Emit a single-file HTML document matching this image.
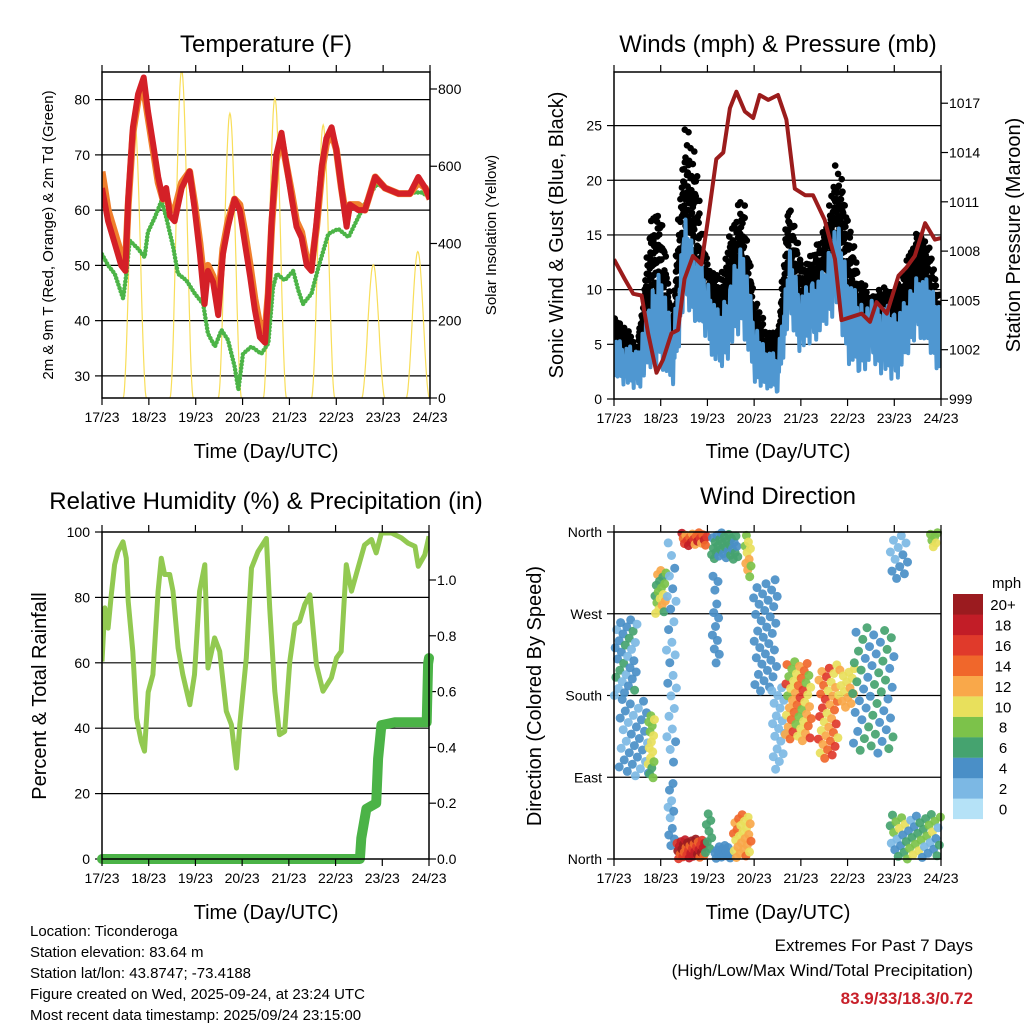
<!DOCTYPE html>
<html><head><meta charset="utf-8"><style>
html,body{margin:0;padding:0;background:#fff;}
svg{display:block;font-family:"Liberation Sans",Arial,sans-serif;}
</style></head><body>
<svg id="c" width="1024" height="1024" viewBox="0 0 1024 1024" xmlns="http://www.w3.org/2000/svg">
<rect width="1024" height="1024" fill="#fff"/>
<text x="266" y="52" font-size="24" text-anchor="middle">Temperature (F)</text>
<text x="778" y="52" font-size="24" text-anchor="middle">Winds (mph) &amp; Pressure (mb)</text>
<text x="266" y="509" font-size="24" text-anchor="middle">Relative Humidity (%) &amp; Precipitation (in)</text>
<text x="778" y="504" font-size="24" text-anchor="middle">Wind Direction</text>
<text transform="translate(53,235) rotate(-90)" font-size="15" text-anchor="middle">2m &amp; 9m T (Red, Orange) &amp; 2m Td (Green)</text>
<text transform="translate(496,235) rotate(-90)" font-size="15" text-anchor="middle">Solar Insolation (Yellow)</text>
<text transform="translate(563,235) rotate(-90)" font-size="20" text-anchor="middle">Sonic Wind &amp; Gust (Blue, Black)</text>
<text transform="translate(1020,235) rotate(-90)" font-size="20" text-anchor="middle">Station Pressure (Maroon)</text>
<text transform="translate(46,696) rotate(-90)" font-size="20" text-anchor="middle">Percent &amp; Total Rainfall</text>
<text transform="translate(541,696) rotate(-90)" font-size="20" text-anchor="middle">Direction (Colored By Speed)</text>
<text x="266" y="458" font-size="20" text-anchor="middle">Time (Day/UTC)</text>
<text x="778" y="458" font-size="20" text-anchor="middle">Time (Day/UTC)</text>
<text x="266" y="919" font-size="20" text-anchor="middle">Time (Day/UTC)</text>
<text x="778" y="919" font-size="20" text-anchor="middle">Time (Day/UTC)</text>
<g font-size="15">
<text x="30" y="936">Location: Ticonderoga</text>
<text x="30" y="957">Station elevation: 83.64 m</text>
<text x="30" y="978">Station lat/lon: 43.8747; -73.4188</text>
<text x="30" y="999">Figure created on Wed, 2025-09-24, at 23:24 UTC</text>
<text x="30" y="1020">Most recent data timestamp: 2025/09/24 23:15:00</text>
</g>
<text x="973" y="951" font-size="17" text-anchor="end">Extremes For Past 7 Days</text>
<text x="973" y="976" font-size="17" text-anchor="end">(High/Low/Max Wind/Total Precipitation)</text>
<text x="973" y="1004" font-size="17" font-weight="bold" fill="#c8202a" text-anchor="end">83.9/33/18.3/0.72</text>
</svg>
<script>
// ---- data ----
const dayLabels = ["17/23","18/23","19/23","20/23","21/23","22/23","23/23","24/23"];
const tempTicks = [30,40,50,60,70,80];
const solarTicks = [0,200,400,600,800];
const windTicks = [0,5,10,15,20,25];
const presTicks = [999,1002,1005,1008,1011,1014,1017];
const rhTicks = [0,20,40,60,80,100];
const rainTicks = [0.0,0.2,0.4,0.6,0.8,1.0];
const dirTicks = [0,90,180,270,360];
const dirTickLabels = ["North","East","South","West","North"];

const redT = [0,.13,.27,.41,.5,.56,.66,.77,.89,.98,1.09,1.2,1.3,1.37,1.45,1.55,1.7,1.87,1.98,2.09,2.19,2.26,2.37,2.48,2.58,2.69,2.83,2.94,3.05,3.16,3.26,3.37,3.48,3.55,3.62,3.72,3.83,3.94,4.05,4.15,4.26,4.37,4.47,4.58,4.69,4.79,4.9,5.0,5.11,5.22,5.29,5.47,5.61,5.72,5.83,6.04,6.33,6.57,6.75,6.9,7.0];
const redV = [64,58,54,50,49,62,75,81,84,78,72,66,62,64,59,58,64,67,60,52,43,49,47,41,52,57,62,60,54,48,42,37,36,45,58,70,74,68,62,57,55,50,49,58,68,73,75,71,64,57,61,60,60,63,66,64,63,63,66,64,62];
const orangeV = [67,60,56,52,50,61,74,80,82,77,71,65,62,63,60,60,65,67,61,54,46,50,48,43,53,58,62,61,56,50,44,39,38,45,57,69,73,68,63,58,56,51,50,57,67,72,74,71,64,58,61,61,60,63,66,64,63,63,65,64,62];
const greenT = [0,.13,.27,.45,.52,.59,.77,.91,.98,1.13,1.27,1.37,1.52,1.62,1.8,1.98,2.16,2.26,2.41,2.55,2.69,2.83,2.91,3.01,3.19,3.4,3.55,3.65,3.73,3.9,4.08,4.19,4.29,4.47,4.62,4.83,5.04,5.26,5.47,5.68,5.86,6.11,6.4,6.61,6.82,7.0];
const greenV = [52,50,48.5,44,48.5,54.5,53,51.5,56,58.7,61.7,58.7,53.3,48.5,47.3,44.9,43,37.7,35.3,38.3,36.5,31.7,27.5,34,35.3,34,35.9,46,48.5,47.3,49,45.5,43,44.9,49.7,55.7,56.6,55.1,58.7,62.3,64.7,63.8,62.9,63.2,63.2,62.3];
const solarPeakT = [0.7,1.7,2.73,3.69,4.72,5.79,6.74];
const solarPeakV = [711,850,737,776,707,345,379];

const windT = [0,.25,.5,.75,1,1.25,1.5,1.75,2,2.25,2.5,2.75,3,3.25,3.5,3.75,4,4.25,4.5,4.75,5,5.25,5.5,5.75,6,6.25,6.5,6.75,7];
const windLo = [2,1,0.5,2,3,0.5,8,7,5,2,4,6,1,1,0.5,7,4,5,6,8,3,2,3,2,1,3,6,4,2];
const windHi = [6,5,4.5,9,13,6,17,14,11,8,11,15,7,5,4,14,10,11,12,17,12,9,9,9,8,9,12,11,9];
const gustLo = [5,4,3,8,9,4,14,11,8,6,9,11,5,3,3,12,8,9,9,14,10,7,6,6,5,7,10,9,6];
const gustHi = [8,7,5,16,20,7,27.5,23,13,11,16,20,10,7,6,20,13,14,16,23,19,12,10,11,11,13,17,14,10];
const presT = [0,.23,.41,.59,.73,.91,1.05,1.23,1.37,1.51,1.69,1.87,2.01,2.19,2.34,2.48,2.62,2.8,2.98,3.12,3.3,3.51,3.69,3.87,4.09,4.26,4.51,4.73,4.87,5.09,5.3,5.48,5.62,5.84,6.09,6.26,6.44,6.66,6.87,7.0];
const presV = [1007.5,1006.3,1005.4,1005.3,1003.0,1000.6,1001.4,1003.0,1003.2,1006.3,1007.7,1007.2,1009.9,1013.6,1014.0,1016.7,1017.7,1016.5,1016.1,1017.5,1017.2,1017.5,1016.0,1011.8,1011.4,1011.4,1009.9,1007.5,1003.8,1004.0,1004.2,1003.7,1004.9,1004.2,1006.5,1007.0,1007.7,1009.7,1008.7,1008.8];

const rhT = [0,.06,.13,.2,.27,.34,.45,.52,.56,.66,.74,.84,.91,.99,1.09,1.2,1.27,1.34,1.45,1.52,1.63,1.73,1.88,1.98,2.09,2.2,2.27,2.41,2.52,2.66,2.77,2.88,2.95,3.09,3.2,3.34,3.52,3.59,3.7,3.8,3.91,4.02,4.13,4.23,4.34,4.45,4.59,4.73,4.91,5.02,5.12,5.23,5.34,5.48,5.62,5.77,5.87,5.98,6.2,6.41,6.55,6.7,6.77,6.91,7.0];
const rhV = [60.4,76.8,70.6,80.8,90,94,97,92,78.8,63.5,43,36,33,51,56.4,81.9,92,87,87,81.9,64.5,56.4,47.2,56.4,81.9,90,58.4,67.6,63.5,45.2,41.1,27.8,41.1,61.5,89,94,98,76.8,51.3,38,39,60.4,71.7,72.7,77.8,80.8,59.4,51.3,55.4,61.5,63.5,90,81.9,89,96,97.7,93.6,99.7,99.7,98.2,96.6,95.6,89.5,93,98.7];
const rainT = [0,5.52,5.55,5.66,5.87,5.91,5.98,6.27,6.95,6.98,7.0];
const rainV = [0,0,0.075,0.18,0.2,0.36,0.48,0.49,0.49,0.70,0.72];

const dirT0 = [0.0,0.1,0.73,0.87,1.12,1.15,1.34,1.44,1.95,2.08,2.1,2.15,2.55,2.8,2.98,3.37,3.66,4.37,4.8,5.1,5.9,5.9,6.76];
const dirT1 = [0.5,0.75,0.87,1.12,1.34,1.3,1.95,2.0,2.1,2.66,2.26,2.5,2.94,2.94,3.5,3.66,4.23,4.8,5.16,6.0,6.3,7.0,6.94];
const dirD0 = [180,90,85,270,100,5,0,345,5,330,215,0,0,310,185,95,130,110,165,115,305,0,342];
const dirD1 = [265,177,160,320,350,85,22,360,55,360,320,15,50,360,310,190,220,215,210,258,360,50,360];
const dirS0 = [2,2,6,5,1,2,13,11,5,4,3,3,9,7,3,1,7,9,9,3,2,2,7];
const dirS1 = [6,5,11,13,4,5,21,19,7,7,5,5,14,13,5,3,16,17,13,7,4,10,10];
const dirN = [30,30,15,18,25,10,35,20,8,30,12,15,25,10,35,18,45,35,15,50,12,45,6];
const speedColors = ["#b5e2f7","#7cb8e4","#4a8fc7","#45a36f","#7cc24a","#e8e05c","#f9a84a","#f0672b","#e03a2b","#c21d27","#9b1b1f"];
const speedLabels = ["0","2","4","6","8","10","12","14","16","18","20+"];

// ---- helpers ----
const svg = document.getElementById('c');
const NS = 'http://www.w3.org/2000/svg';
function mk(tag, attrs, parent){
  const e = document.createElementNS(NS, tag);
  for (const k in attrs) e.setAttribute(k, attrs[k]);
  (parent||svg).appendChild(e);
  return e;
}
function frac(v){ return v - Math.floor(v); }
function axis(lo, hi, p0, p1){ return v => p0 + (v-lo)/(hi-lo)*(p1-p0); }
function panel(x0,x1,y0,y1){ return {x0,x1,y0,y1,x:axis(0,7,x0,x1)}; }
function pathFrom(ts, vs, xf, yf){
  return ts.map((t,i)=>(i?'L':'M')+xf(t).toFixed(1)+','+yf(vs[i]).toFixed(1)).join(' ');
}
function frame(P, name){
  const g = mk('g', {});
  
  
  mk('rect',{x:P.x0,y:P.y0,width:P.x1-P.x0,height:P.y1-P.y0,fill:'none',stroke:'#000','stroke-width':1.5}, g);
  dayLabels.forEach((lab,i)=>{
    const x = P.x(i);
    mk('line',{x1:x,x2:x,y1:P.y1,y2:P.y1+7,stroke:'#000','stroke-width':1.2}, g);
    mk('line',{x1:x,x2:x,y1:P.y0,y2:P.y0-7,stroke:'#000','stroke-width':1.2}, g);
    const t = mk('text',{x:x,y:P.y1+24,'font-size':14,'text-anchor':'middle'}, g);
    
    
    t.textContent = lab;
  });
  return g;
}
function leftTicks(P, ticks, yf, labels, grid, name){
  ticks.forEach((v,i)=>{
    const y = yf(v);
    if (grid && y>P.y0+1 && y<P.y1-1) mk('line',{x1:P.x0,x2:P.x1,y1:y,y2:y,stroke:'#000','stroke-width':1.2});
    mk('line',{x1:P.x0-7,x2:P.x0,y1:y,y2:y,stroke:'#000','stroke-width':1.2});
    const t = mk('text',{x:P.x0-12,y:y+5,'font-size':14,'text-anchor':'end'});
    
    
    t.textContent = labels ? labels[i] : v;
  });
}
function rightTicks(P, ticks, yf, fmt, name){
  ticks.forEach(v=>{
    const y = yf(v);
    mk('line',{x1:P.x1,x2:P.x1+7,y1:y,y2:y,stroke:'#000','stroke-width':1.2});
    const t = mk('text',{x:P.x1+8,y:y+5,'font-size':14,'text-anchor':'start'});
    
    
    t.textContent = fmt ? fmt(v) : v;
  });
}
function clip(P, id){
  const d = mk('defs',{});
  const c = mk('clipPath',{id:id}, d);
  mk('rect',{x:P.x0,y:P.y0,width:P.x1-P.x0,height:P.y1-P.y0}, c);
}

// ---- Panel 1: Temperature ----
const P1 = panel(102,430,72,398);
const yT = axis(26,85,398,72);
const yS = axis(0,844,398,72);
clip(P1,'c1');
leftTicks(P1, tempTicks, yT, null, true, 'temperature');
rightTicks(P1, solarTicks, yS, null, 'solar');
const g1 = mk('g',{'clip-path':'url(#c1)'});
solarPeakT.forEach((pt,i)=>{
  let d='';
  for (let k=0;k<=40;k++){
    const t = pt-0.25+k*0.5/40;
    const s = Math.sin(Math.PI*k/40);
    const v = solarPeakV[i]*Math.pow(s,2);
    d += (k?'L':'M')+P1.x(t).toFixed(1)+','+yS(v).toFixed(1);
  }
  const p = mk('path',{d:d,fill:'none',stroke:'#f8de5a','stroke-width':1.2}, g1);
  
  
});
const pg = mk('path',{d:pathFrom(greenT,greenV,P1.x,yT),fill:'none',stroke:'#4cb447','stroke-width':4.5,'stroke-linecap':'round','stroke-dasharray':'0 3.5'}, g1);


const po = mk('path',{d:pathFrom(redT,orangeV,P1.x,yT),fill:'none',stroke:'#f07f2c','stroke-width':7,'stroke-linejoin':'round'}, g1);


const pr = mk('path',{d:pathFrom(redT,redV,P1.x,yT),fill:'none',stroke:'#d42027','stroke-width':6,'stroke-linejoin':'round'}, g1);


frame(P1,'temperature');

// ---- Panel 2: Winds ----
const P2 = panel(614,941,72,399);
const yW = axis(0,29.9,399,72);
const yP = axis(999,1018.9,399,72);
clip(P2,'c2');
leftTicks(P2, windTicks, yW, null, true, 'wind');
rightTicks(P2, presTicks, yP, null, 'pressure');
const g2 = mk('g',{'clip-path':'url(#c2)'});
const SUB = 16;
for (let i=0;i<windT.length-1;i++){
  for (let k=0;k<SUB;k++){
    const f = k/SUB;
    const t = windT[i]+f*(windT[i+1]-windT[i]);
    const gl = gustLo[i]+f*(gustLo[i+1]-gustLo[i]);
    const gh = gustHi[i]+f*(gustHi[i+1]-gustHi[i]);
    const top = gl + (gh-gl)*(0.55+0.45*frac(k*0.618+i*0.37));
    for (let m=0;m<4;m++){
      const v = gl + (top-gl)*frac(m*0.38+k*0.21+i*0.11);
      const c = mk('circle',{cx:P2.x(t).toFixed(1),cy:yW(v).toFixed(1),r:3.3,fill:'#000'}, g2);
      
      
    }
  }
}
let wd='';
for (let i=0;i<windT.length-1;i++){
  for (let k=0;k<SUB;k++){
    const f = k/SUB;
    const t = windT[i]+f*(windT[i+1]-windT[i]);
    const lo = windLo[i]+f*(windLo[i+1]-windLo[i]);
    const hi = windHi[i]+f*(windHi[i+1]-windHi[i]);
    const v = lo + (hi-lo)*frac(k*0.618+i*0.29);
    wd += (wd?'L':'M')+P2.x(t).toFixed(1)+','+yW(v).toFixed(1);
  }
}
const pw = mk('path',{d:wd,fill:'none',stroke:'#4f97d1','stroke-width':4,'stroke-linejoin':'round'}, g2);


const pp = mk('path',{d:pathFrom(presT,presV,P2.x,yP),fill:'none',stroke:'#9b1c1c','stroke-width':4,'stroke-linejoin':'round'}, g2);


frame(P2,'winds');

// ---- Panel 3: RH & precip ----
const P3 = panel(102,429,532,859);
const yR = axis(0,100,859,532);
const yRain = axis(0,1.172,859,532);
clip(P3,'c3');
leftTicks(P3, rhTicks, yR, null, true, 'humidity');
rightTicks(P3, rainTicks, yRain, v=>v.toFixed(1), 'rainfall');
const g3 = mk('g',{'clip-path':'url(#c3)'});
const prh = mk('path',{d:pathFrom(rhT,rhV,P3.x,yR),fill:'none',stroke:'#92c951','stroke-width':5,'stroke-linejoin':'round'}, g3);


const prn = mk('path',{d:pathFrom(rainT,rainV,P3.x,yRain),fill:'none',stroke:'#4bb347','stroke-width':10,'stroke-linejoin':'round','stroke-linecap':'round'});


frame(P3,'humidity');

// ---- Panel 4: Wind direction ----
const P4 = panel(614,941,532,859);
const yD = axis(0,360,859,532);
clip(P4,'c4');
leftTicks(P4, dirTicks, yD, dirTickLabels, true, 'direction');
const g4 = mk('g',{});
function spdColor(s){ return speedColors[Math.max(0,Math.min(10,Math.round(s/2)))]; }
dirT0.forEach((t0,i)=>{
  const n = dirN[i];
  for (let j=0;j<n;j++){
    const a = (j+0.5)/n;
    const b = frac(j*0.6180339+i*0.13);
    const c = frac(j*0.4142136+i*0.41);
    const t = t0 + a*(dirT1[i]-t0);
    const d = dirD0[i] + b*(dirD1[i]-dirD0[i]);
    const s = dirS0[i] + c*(dirS1[i]-dirS0[i]);
    const dot = mk('circle',{cx:P4.x(t).toFixed(1),cy:yD(d).toFixed(1),r:4.5,fill:spdColor(s),'fill-opacity':0.92}, g4);
    
    
  }
});
frame(P4,'direction');
const lg = mk('g',{});


const lt = mk('text',{x:992,y:588,'font-size':15}, lg);


lt.textContent = 'mph';
speedColors.forEach((col,i)=>{
  const y = 594 + (10-i)*20.45;
  const r = mk('rect',{x:953,y:y.toFixed(1),width:30,height:20.6,fill:col}, lg);
  
  
  const tx = mk('text',{x:1003,y:(y+16).toFixed(1),'font-size':15,'text-anchor':'middle'}, lg);
  
  
  tx.textContent = speedLabels[i];
});
</script>
</body></html>
